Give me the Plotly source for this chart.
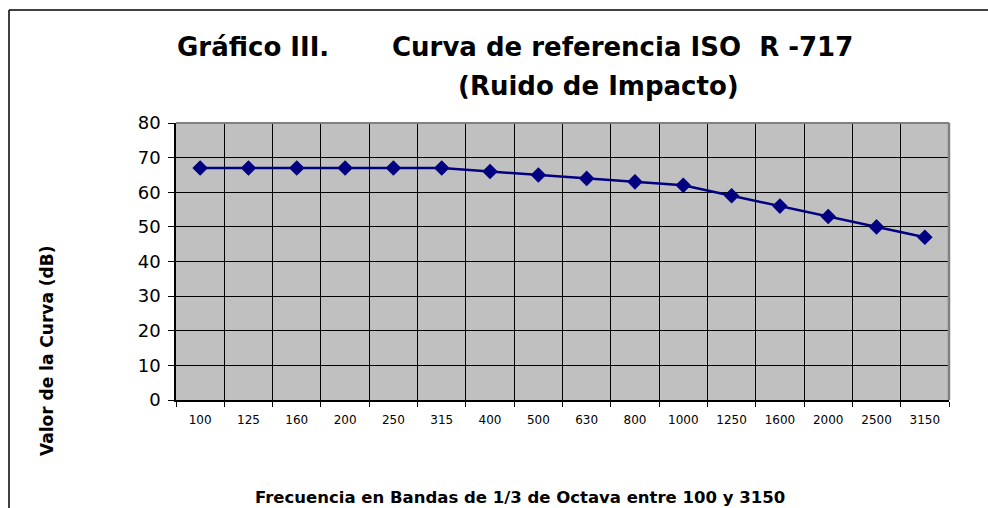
import plotly.graph_objects as go

bands = ["100", "125", "160", "200", "250", "315", "400", "500", "630",
         "800", "1000", "1250", "1600", "2000", "2500", "3150"]
curve_db = [67, 67, 67, 67, 67, 67, 66, 65, 64, 63, 62, 59, 56, 53, 50, 47]
y_ticks = [0, 10, 20, 30, 40, 50, 60, 70, 80]

W, H = 988, 508
L, R, T, B = 176, 39, 123, 108
PW, PH = W - L - R, H - T - B

def px(x):
    return (x - L) / PW

def py(y):
    return (H - B - y) / PH

FONT = "DejaVu Sans"

fig = go.Figure()
fig.add_trace(go.Scatter(
    x=bands, y=curve_db, mode="lines+markers",
    line=dict(color="#000080", width=2.5),
    marker=dict(symbol="diamond", size=12, color="#000080"),
    showlegend=False,
))

fig.update_layout(
    width=W, height=H,
    margin=dict(l=L, r=R, t=T, b=B),
    paper_bgcolor="white",
    plot_bgcolor="#C0C0C0",
    font=dict(family=FONT, color="black"),
    xaxis=dict(
        type="category", tickson="boundaries",
        range=[-0.5, len(bands) - 0.5],
        showgrid=True, gridcolor="black", gridwidth=1,
        showline=True, linecolor="black", linewidth=1.5,
        ticks="outside", ticklen=5, tickcolor="black",
        tickfont=dict(family=FONT, size=12),
        ticklabelstandoff=8,
        zeroline=False, fixedrange=True,
    ),
    yaxis=dict(
        range=[0, 80], tickvals=y_ticks,
        showgrid=True, gridcolor="black", gridwidth=1,
        showline=True, linecolor="black", linewidth=1.5,
        ticks="outside", ticklen=6, tickcolor="black",
        tickfont=dict(family=FONT, size=18),
        ticklabelstandoff=4,
        zeroline=False, fixedrange=True,
    ),
    shapes=[
        # outer chart border (top and left visible)
        dict(type="line", xref="paper", yref="paper",
             x0=px(9), x1=px(990), y0=py(10), y1=py(10),
             line=dict(color="black", width=1.5), layer="above"),
        dict(type="line", xref="paper", yref="paper",
             x0=px(9), x1=px(9), y0=py(510), y1=py(10),
             line=dict(color="black", width=1.5), layer="above"),
        # plot area top/right grey frame
        dict(type="line", xref="paper", yref="paper",
             x0=0, x1=1, y0=1, y1=1,
             line=dict(color="#808080", width=2), layer="above"),
        dict(type="line", xref="paper", yref="paper",
             x0=1, x1=1, y0=0, y1=1,
             line=dict(color="#808080", width=2.5), layer="above"),
    ],
    annotations=[
        dict(text="<b>Gráfico III.</b>", xref="paper", yref="paper",
             x=px(175), y=py(47), xanchor="left", yanchor="middle",
             showarrow=False, font=dict(family=FONT, size=26)),
        dict(text="<b>Curva de referencia ISO\u00a0\u00a0R -717</b>", xref="paper", yref="paper",
             x=px(390), y=py(47), xanchor="left", yanchor="middle",
             showarrow=False, font=dict(family=FONT, size=26)),
        dict(text="<b>(Ruido de Impacto)</b>", xref="paper", yref="paper",
             x=px(598), y=py(86), xanchor="center", yanchor="middle",
             showarrow=False, font=dict(family=FONT, size=26)),
        dict(text="<b>Frecuencia en Bandas de 1/3 de Octava entre 100 y 3150</b>",
             xref="paper", yref="paper",
             x=px(520), y=py(497), xanchor="center", yanchor="middle",
             showarrow=False, font=dict(family=FONT, size=16.5)),
        dict(text="<b>Valor de la Curva (dB)</b>", xref="paper", yref="paper",
             x=px(47), y=py(351), xanchor="center", yanchor="middle",
             textangle=-90, showarrow=False, font=dict(family=FONT, size=17)),
    ],
)

fig.write_html("out.html",
               config={"displayModeBar": False},
               post_script="document.body.style.margin='0';document.body.style.overflow='hidden';")
